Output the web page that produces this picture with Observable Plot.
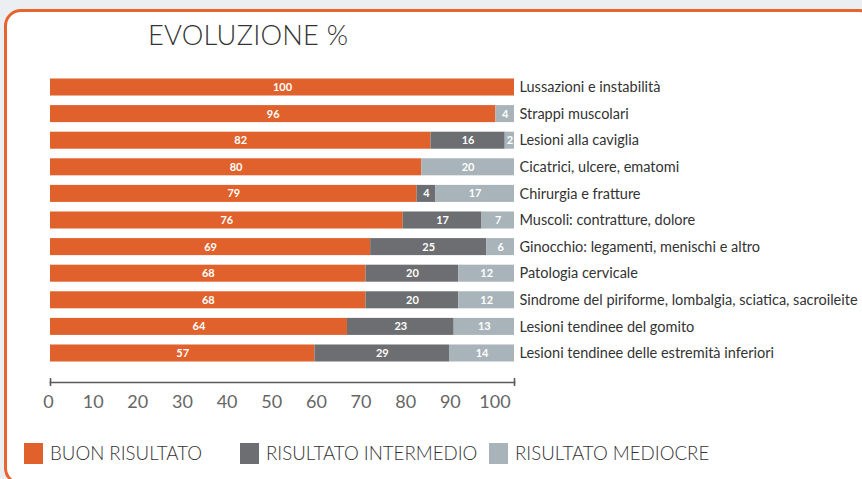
<!DOCTYPE html>
<html>
<head>
<meta charset="utf-8">
<script src="https://cdn.jsdelivr.net/npm/d3@7"></script>
<script src="https://cdn.jsdelivr.net/npm/@observablehq/plot@0.6"></script>
<style>
  html, body { margin: 0; padding: 0; background: #eceff2; width: 862px; height: 479px; overflow: hidden; font-family: Lato, "Noto Sans", sans-serif; }
  #card { position: absolute; left: 4px; top: 9px; width: 872px; height: 476px; border: 3px solid #e6652e; border-radius: 17px; background: #fff; box-sizing: border-box; }
  #title { position: absolute; left: 148px; top: 18px; font-size: 27.3px; font-weight: 300; color: #333; letter-spacing: 0.2px; }
  #chart { position: absolute; left: 0; top: 0; }
  #ticks { position: absolute; left: 0; top: 387px; }
  .leg { position: absolute; top: 442px; display: flex; align-items: center; font-size: 18.7px; color: #333; font-weight: 300; }
  .sw { width: 19px; height: 21px; margin-right: 7px; }
</style>
</head>
<body>
<div id="card"></div>
<div id="title">EVOLUZIONE %</div>
<div id="chart"></div>
<div id="ticks"></div>
<div id="legend"></div>
<script>
const categories = [
  "Lussazioni e instabilità",
  "Strappi muscolari",
  "Lesioni alla caviglia",
  "Cicatrici, ulcere, ematomi",
  "Chirurgia e fratture",
  "Muscoli: contratture, dolore",
  "Ginocchio: legamenti, menischi e altro",
  "Patologia cervicale",
  "Sindrome del piriforme, lombalgia, sciatica, sacroileite",
  "Lesioni tendinee del gomito",
  "Lesioni tendinee delle estremità inferiori"
];
const buono      = [100, 96, 82, 80, 79, 76, 69, 68, 68, 64, 57];
const intermedio = [0, 0, 16, 0, 4, 17, 25, 20, 20, 23, 29];
const mediocre   = [0, 4, 2, 20, 17, 7, 6, 12, 12, 13, 14];
const seriesNames = ["BUON RISULTATO", "RISULTATO INTERMEDIO", "RISULTATO MEDIOCRE"];
const seriesColors = ["#e0612b", "#6c6e71", "#a8b4ba"];
const tickValues = [0, 10, 20, 30, 40, 50, 60, 70, 80, 90, 100];

const rows = [];
categories.forEach((c, i) => {
  [buono, intermedio, mediocre].forEach((arr, s) => {
    rows.push({cat: c, series: seriesNames[s], value: arr[i]});
  });
});
const nonZero = rows.filter(d => d.value > 0);

const chart = Plot.plot({
  width: 862,
  height: 392,
  marginLeft: 50,
  marginRight: 348,
  marginTop: 70,
  marginBottom: 10,
  style: {fontFamily: "Lato, 'Noto Sans', sans-serif", background: "transparent", overflow: "visible"},
  x: {domain: [0, 100], axis: null},
  y: {domain: categories, range: [78.5, 361.5], paddingInner: 0.36, paddingOuter: 0, round: false, axis: null},
  color: {domain: seriesNames, range: seriesColors},
  marks: [
    Plot.barX(nonZero, Plot.stackX({x: "value", y: "cat", fill: "series", order: seriesNames})),
    Plot.text(nonZero, Plot.stackX({x: "value", y: "cat", z: "series", order: seriesNames, text: d => String(d.value), fill: "white", fontWeight: "bold", fontSize: 11})),
    Plot.axisY({anchor: "right", tickSize: 0, tickPadding: 5, fontSize: 14.5, fill: "#333", label: null}),
    Plot.frame({anchor: "bottom", stroke: "#5a5a5a", strokeWidth: 1.6}),
    Plot.axisX({ticks: [0, 100], tickSize: 8, tickFormat: () => "", dy: -4, stroke: "#5a5a5a", strokeWidth: 1.6, label: null})
  ]
});
document.getElementById("chart").appendChild(chart);

const ticks = Plot.plot({
  width: 862,
  height: 30,
  margin: 0,
  style: {fontFamily: "Lato, 'Noto Sans', sans-serif", background: "transparent", overflow: "visible"},
  x: {domain: [0, 100], range: [48, 494.5], axis: null},
  marks: [
    Plot.text(tickValues, {x: d => d, text: d => String(d), frameAnchor: "middle", fontSize: 18, fill: "#666"})
  ]
});
document.getElementById("ticks").appendChild(ticks);

const legendLefts = [24, 240, 489];
const legend = document.getElementById("legend");
seriesNames.forEach((name, i) => {
  const item = document.createElement("div");
  item.className = "leg";
  item.style.left = legendLefts[i] + "px";
  item.innerHTML = `<span class="sw" style="background:${seriesColors[i]}"></span><span>${name}</span>`;
  legend.appendChild(item);
});
</script>
</body>
</html>
